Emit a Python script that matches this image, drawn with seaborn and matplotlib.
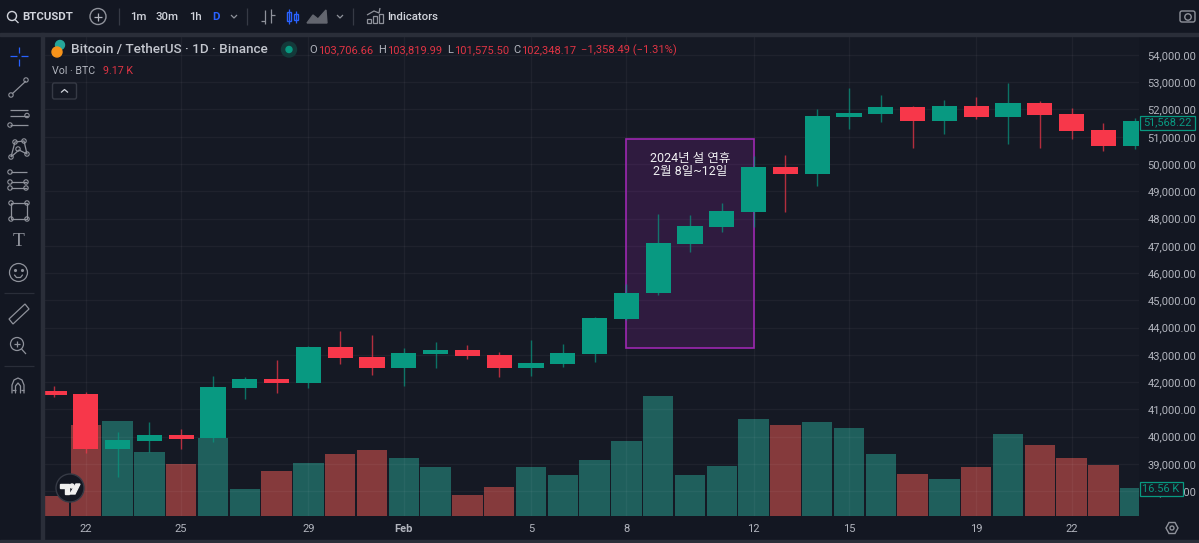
"""
BTCUSDT daily candles with volume, TradingView dark look
"""
import pandas as pd
import seaborn as sns
import matplotlib.pyplot as plt
from matplotlib.patches import Rectangle, Circle, Polygon, FancyBboxPatch

W, H = 1199, 543

# Jan 21 to Feb 24
opens = [41669, 41559, 39540, 39834, 40054, 39944, 41779, 42109, 41962, 43284, 42917, 42513,
         43027, 43174, 42990, 42513, 42660, 43027, 44311, 45265, 47063, 47688, 48238, 49890,
         49633, 51725, 51835, 52092, 51578, 52128, 51725, 52238, 51835, 51248, 50660]
highs = [41852, 41632, 40164, 40531, 40274, 42219, 42183, 42807, 43320, 43871, 43724, 43247,
         43467, 43357, 43100, 43541, 43394, 44385, 45596, 48165, 48128, 48568, 50293, 50330,
         52018, 52789, 52532, 52128, 52349, 52459, 52972, 52312, 52055, 51504, 51688]
lows = [41449, 39393, 38513, 39430, 39540, 39797, 41375, 41595, 41779, 42660, 42256, 41852,
        42513, 42843, 42183, 42219, 42550, 42733, 44275, 45192, 46770, 47504, 47688, 48238,
        49192, 51284, 51541, 50587, 51101, 51651, 50734, 50587, 50917, 50477, 50550]
closes = [41522, 39540, 39870, 40054, 39907, 41816, 42109, 41962, 43284, 42880, 42513, 43063,
          43174, 42953, 42513, 42696, 43063, 44348, 45265, 47100, 47724, 48275, 49890, 49633,
          51761, 51871, 52092, 51578, 52128, 51725, 52238, 51798, 51211, 50660, 51568.22]
volumes = [11.8, 53.8, 56.1, 37.8, 30.7, 46.1, 16.0, 26.6, 31.3, 36.6, 39.0, 34.3,
           29.0, 12.4, 17.1, 29.0, 24.2, 33.1, 44.3, 70.9, 24.2, 29.6, 57.3, 53.8,
           55.6, 52.0, 36.6, 24.8, 21.9, 29.0, 48.5, 42.0, 34.3, 30.1, 16.56]

date_ticks = [1, 4, 8, 11, 15, 18, 22, 25, 29, 32]
date_labels = ['22', '25', '29', 'Feb', '5', '8', '12', '15', '19', '22']
price_ticks = list(range(38000, 55000, 1000))

# holiday box: first and last candle, price range
box_days = [18, 22]
box_prices = [43250, 50900]
box_text = '2024년 설 연휴\n2월 8일~12일'
box_text_price = 49960

BG = '#151924'
SEP = '#2a2e39'
TXT = '#b2b5be'
UP = '#089981'
DOWN = '#f7374a'
VOL_UP = '#1f5f5c'
VOL_DOWN = '#853a3c'
RED_TXT = '#e03444'
ICON = '#8f929b'


def px_axes(fig, left, top, right, bottom):
    return fig.add_axes([left / W, 1 - bottom / H, (right - left) / W, (bottom - top) / H])


def draw_candles(ax, df):
    for up, color in [(True, UP), (False, DOWN)]:
        sub = df[df.up == up]
        ax.vlines(sub.day, sub.low, sub.high, color=color, linewidth=1, alpha=0.7, zorder=2)
        ax.bar(sub.day, (sub.close - sub.open).abs(), bottom=sub[['open', 'close']].min(axis=1),
               width=0.79, color=color, linewidth=0, zorder=3)


def node(ui, x, y, r=2.2):
    ui.add_patch(Circle((x, y), r, fill=False, ec=ICON, lw=0.8))


def line(ui, xs, ys, color=ICON, lw=0.9):
    ui.plot(xs, ys, color=color, lw=lw, solid_capstyle='butt')


def draw_top_bar(ui):
    ui.add_patch(Circle((12, 16), 4.5, fill=False, ec='#d1d4dc', lw=1))
    line(ui, [15, 18.5], [19.5, 23], '#d1d4dc')
    ui.text(22, 16.5, 'BTCUSDT', color='#d1d4dc', fontsize=8.2, fontweight='bold', va='center')
    ui.add_patch(Circle((98, 16.5), 8, fill=False, ec=ICON, lw=1))
    line(ui, [94, 102], [16.5, 16.5], TXT)
    line(ui, [98, 98], [12.5, 20.5], TXT)
    for x in [118.5, 247, 353]:
        line(ui, [x, x], [8, 25], '#363a45')
    for x, s in [(130, '1m'), (156, '30m'), (189, '1h')]:
        ui.text(x, 16.5, s, color='#d1d4dc', fontsize=8.2, fontweight='medium', va='center')
    ui.text(212, 16.5, 'D', color='#2962ff', fontsize=8.2, fontweight='bold', va='center')
    for x in [234, 340]:
        line(ui, [x - 3, x, x + 3], [15, 18, 15], ICON)
    # bar style icons
    line(ui, [265, 265], [10, 24])
    line(ui, [261, 265], [21, 21])
    line(ui, [271, 271], [9, 23])
    line(ui, [271, 275], [15, 15])
    ui.add_patch(Rectangle((286.5, 12), 4, 9, fill=False, ec='#2962ff', lw=1))
    line(ui, [288.5, 288.5], [9, 24], '#2962ff')
    ui.add_patch(Rectangle((294, 14), 3.5, 6, fill=False, ec='#2962ff', lw=1))
    line(ui, [295.8, 295.8], [11, 23], '#2962ff')
    ui.add_patch(Polygon([(307, 23), (313, 15), (318, 19), (326, 10), (327, 23)], color='#63666f'))
    # indicators icon
    line(ui, [367, 374, 379, 380], [15, 11, 13, 8])
    for x, y0 in [(367, 19), (373, 16), (379, 14)]:
        ui.add_patch(Rectangle((x, y0), 4, 23 - y0, fill=False, ec=ICON, lw=0.9))
    ui.text(387, 16.5, 'Indicators', color='#d1d4dc', fontsize=8.2, fontweight='medium', va='center')
    # camera
    ui.add_patch(FancyBboxPatch((1180, 11), 15, 11, boxstyle='round,pad=0,rounding_size=2',
                                fill=False, ec=ICON, lw=1))
    ui.add_patch(Circle((1188, 17), 3.2, fill=False, ec=ICON, lw=1))


def draw_left_bar(ui):
    # crosshair
    line(ui, [10, 16.5], [56, 56], '#2962ff')
    line(ui, [21, 28], [56, 56], '#2962ff')
    line(ui, [19, 19], [47, 53], '#2962ff')
    line(ui, [19, 19], [59, 66], '#2962ff')
    # trend line
    line(ui, [12, 26], [94, 81])
    node(ui, 11, 95)
    node(ui, 26, 80)
    # pitchfork style lines
    for y in [110, 116, 125]:
        line(ui, [10, 28], [y, y])
    node(ui, 27, 115.5)
    node(ui, 10, 125)
    # gann fan
    line(ui, [11, 15, 24, 27, 19, 11], [157, 142, 141, 154, 150, 157])
    for x, y in [(11, 157), (15, 142), (24, 141), (27, 154), (18, 149)]:
        node(ui, x, y)
    # fib
    for y in [172, 182, 188]:
        line(ui, [11, 27], [y, y])
        node(ui, 10, y)
    node(ui, 26, 182)
    node(ui, 26, 188)
    # rectangle
    ui.add_patch(Rectangle((11, 203), 16, 16, fill=False, ec=ICON, lw=0.9))
    for x, y in [(11, 203), (27, 203), (11, 219), (27, 219)]:
        node(ui, x, y)
    ui.text(19, 241, 'T', color=ICON, fontsize=14, family='Liberation Serif', ha='center', va='center')
    # smiley
    ui.add_patch(Circle((18.5, 272.5), 9, fill=False, ec=ICON, lw=0.9))
    ui.plot([15, 22], [270, 270], ls='none', marker='.', ms=2.5, color=ICON)
    ui.plot([14.5, 16.5, 20.5, 22.5], [275, 277.5, 277.5, 275], color=ICON, lw=0.9)
    line(ui, [4, 34], [293, 293], '#2a2e39')
    # ruler
    ui.add_patch(Polygon([(9, 319), (25, 304), (29, 309), (13, 324)], fill=False, ec=ICON, lw=0.9))
    # zoom
    ui.add_patch(Circle((17, 344), 6.5, fill=False, ec=ICON, lw=0.9))
    line(ui, [21.5, 26], [349, 354])
    line(ui, [14, 20], [344, 344])
    line(ui, [17, 17], [341, 347])
    line(ui, [4, 34], [366, 366], '#2a2e39')
    # magnet
    ui.plot([12, 12, 14, 18, 22, 24, 24], [393, 385, 380, 378, 380, 385, 393], color=ICON, lw=0.9)
    ui.plot([15.5, 15.5, 18, 20.5, 20.5], [393, 386, 383, 386, 393], color=ICON, lw=0.9)
    line(ui, [12, 15.5], [390, 390])
    line(ui, [20.5, 24], [390, 390])


def draw_legend(ui):
    ui.add_patch(Circle((60, 45), 4.5, color='#26a69a'))
    ui.add_patch(Circle((57, 52), 5, color='#f7931a'))
    ui.text(71, 50, 'Bitcoin / TetherUS · 1D · Binance', color='#c3c6ce', fontsize=9.7,
            fontweight='medium', va='center')
    ui.add_patch(Circle((289, 49.5), 7.5, color='#133a3a'))
    ui.add_patch(Circle((289, 49.5), 3, color='#089981'))
    pieces = [('O', 309, TXT), ('103,706.66', 318, RED_TXT), ('H', 378, TXT), ('103,819.99', 387, RED_TXT),
              ('L', 447, TXT), ('101,575.50', 454, RED_TXT), ('C', 513, TXT), ('102,348.17', 521, RED_TXT),
              ('−1,358.49 (−1.31%)', 581, RED_TXT)]
    for s, x, c in pieces:
        ui.text(x, 50, s, color=c, fontsize=8.0, va='center')
    ui.text(52, 71, 'Vol · BTC', color=TXT, fontsize=7.7, va='center')
    ui.text(103, 71, '9.17 K', color=RED_TXT, fontsize=7.7, va='center')
    ui.add_patch(FancyBboxPatch((52.5, 83), 24, 16, boxstyle='round,pad=0,rounding_size=2',
                                fc=BG, ec='#363a45', lw=1))
    line(ui, [61, 64.5, 68], [92.5, 89.5, 92.5], '#d1d4dc')


def draw_logo(ui):
    ui.add_patch(Circle((70, 488), 14, fc='#131722', ec='#363a45', lw=1, zorder=5))
    white = '#f0f0f0'
    ui.add_patch(Polygon([(60, 484), (69, 484), (69, 494), (65, 494), (65, 488), (60, 488)], color=white, zorder=6))
    ui.add_patch(Circle((72, 486), 2, color=white, zorder=6))
    ui.add_patch(Polygon([(76, 484), (80, 484), (75, 494), (70, 494)], color=white, zorder=6))


def draw_tags(ui, last_close, last_volume):
    ui.add_patch(Rectangle((1139.5, 115.5), 55, 14, fc=BG, ec=UP, lw=0.9, zorder=5))
    ui.text(1167, 122.5, f'{last_close:,.2f}', color=UP, fontsize=7.9, ha='center', va='center', zorder=6)
    ui.add_patch(Rectangle((1139.5, 481.5), 43, 14, fc=BG, ec=UP, lw=0.9, zorder=5))
    ui.text(1161, 488.5, f'{last_volume:.2f} K', color=UP, fontsize=7.9, ha='center', va='center', zorder=6)
    # settings gear
    ui.add_patch(Polygon([(1166, 528), (1169, 522.5), (1175, 522.5), (1178, 528), (1175, 533.5), (1169, 533.5)],
                         fill=False, ec=ICON, lw=1))
    ui.add_patch(Circle((1172, 528), 2, fill=False, ec=ICON, lw=1))


if __name__ == "__main__":
    sns.set_theme(style='dark', rc={'figure.facecolor': '#131722', 'axes.facecolor': BG})
    plt.rcParams['font.family'] = ['Roboto', 'Noto Sans CJK KR', 'DejaVu Sans']

    df = pd.DataFrame({'open': opens, 'high': highs, 'low': lows, 'close': closes, 'volume': volumes})
    df['day'] = df.index
    df['up'] = df.close >= df.open

    fig = plt.figure(figsize=(W / 100, H / 100), dpi=100)

    # volume sits behind the candles, on its own scale
    ax_vol = px_axes(fig, 44, 36, 1139, 516)
    sns.barplot(data=df, x='day', y='volume', hue='up', palette={True: VOL_UP, False: VOL_DOWN},
                native_scale=True, dodge=False, width=0.96, legend=False, saturation=1,
                linewidth=0, ax=ax_vol)
    ax_vol.set_ylim(0, 284)
    ax_vol.set_xlim(-0.314, 34.12)
    ax_vol.set_xticks([])
    ax_vol.set_yticks([])
    ax_vol.set_xlabel('')
    ax_vol.set_ylabel('')
    ax_vol.set_zorder(1)

    ax = px_axes(fig, 44, 36, 1139, 516)
    ax.patch.set_alpha(0)
    ax.set_zorder(2)
    ax.set_axisbelow(True)
    ax.grid(True, color='white', alpha=0.045, linewidth=1)
    box_w = box_days[1] - box_days[0]
    box_h = box_prices[1] - box_prices[0]
    ax.add_patch(Rectangle((box_days[0], box_prices[0]), box_w, box_h,
                           facecolor=(0.612, 0.153, 0.69, 0.2), edgecolor='none', zorder=1))
    ax.add_patch(Rectangle((box_days[0], box_prices[0]), box_w, box_h,
                           fill=False, ec='#9c27b0', lw=1.2, zorder=1.5))
    draw_candles(ax, df)
    ax.text(sum(box_days) / 2, box_text_price, box_text, color='#f0f0f2', fontsize=9, ha='center', va='center',
            linespacing=1.0, zorder=4)
    ax.set_xlim(-0.314, 34.12)
    ax.set_ylim(37083, 54697)
    ax.set_xticks(date_ticks)
    ax.set_xticklabels(date_labels)
    ax.set_yticks(price_ticks)
    ax.set_yticklabels([f'{p:,.2f}' for p in price_ticks])
    ax.yaxis.tick_right()
    ax.tick_params(axis='both', length=0, colors=TXT, labelsize=8)
    ax.tick_params(axis='x', pad=6)
    ax.tick_params(axis='y', pad=6)
    ax.get_xticklabels()[3].set_fontweight('bold')
    for spine in ax.spines.values():
        spine.set_visible(False)
    for spine in ax_vol.spines.values():
        spine.set_visible(False)

    # overlay in pixel coordinates for the toolbars, legend and tags
    ui = fig.add_axes([0, 0, 1, 1], zorder=5)
    ui.set_xlim(0, W)
    ui.set_ylim(H, 0)
    ui.axis('off')
    ui.add_patch(Rectangle((0, 33), W, 3, color=SEP))
    ui.add_patch(Rectangle((40.5, 33), 3, H - 33, color=SEP))
    ui.add_patch(Rectangle((0, 540), W, 3, color=SEP))
    draw_top_bar(ui)
    draw_left_bar(ui)
    draw_legend(ui)
    draw_logo(ui)
    draw_tags(ui, closes[-1], volumes[-1])

    fig.savefig('out.png', dpi=100)
